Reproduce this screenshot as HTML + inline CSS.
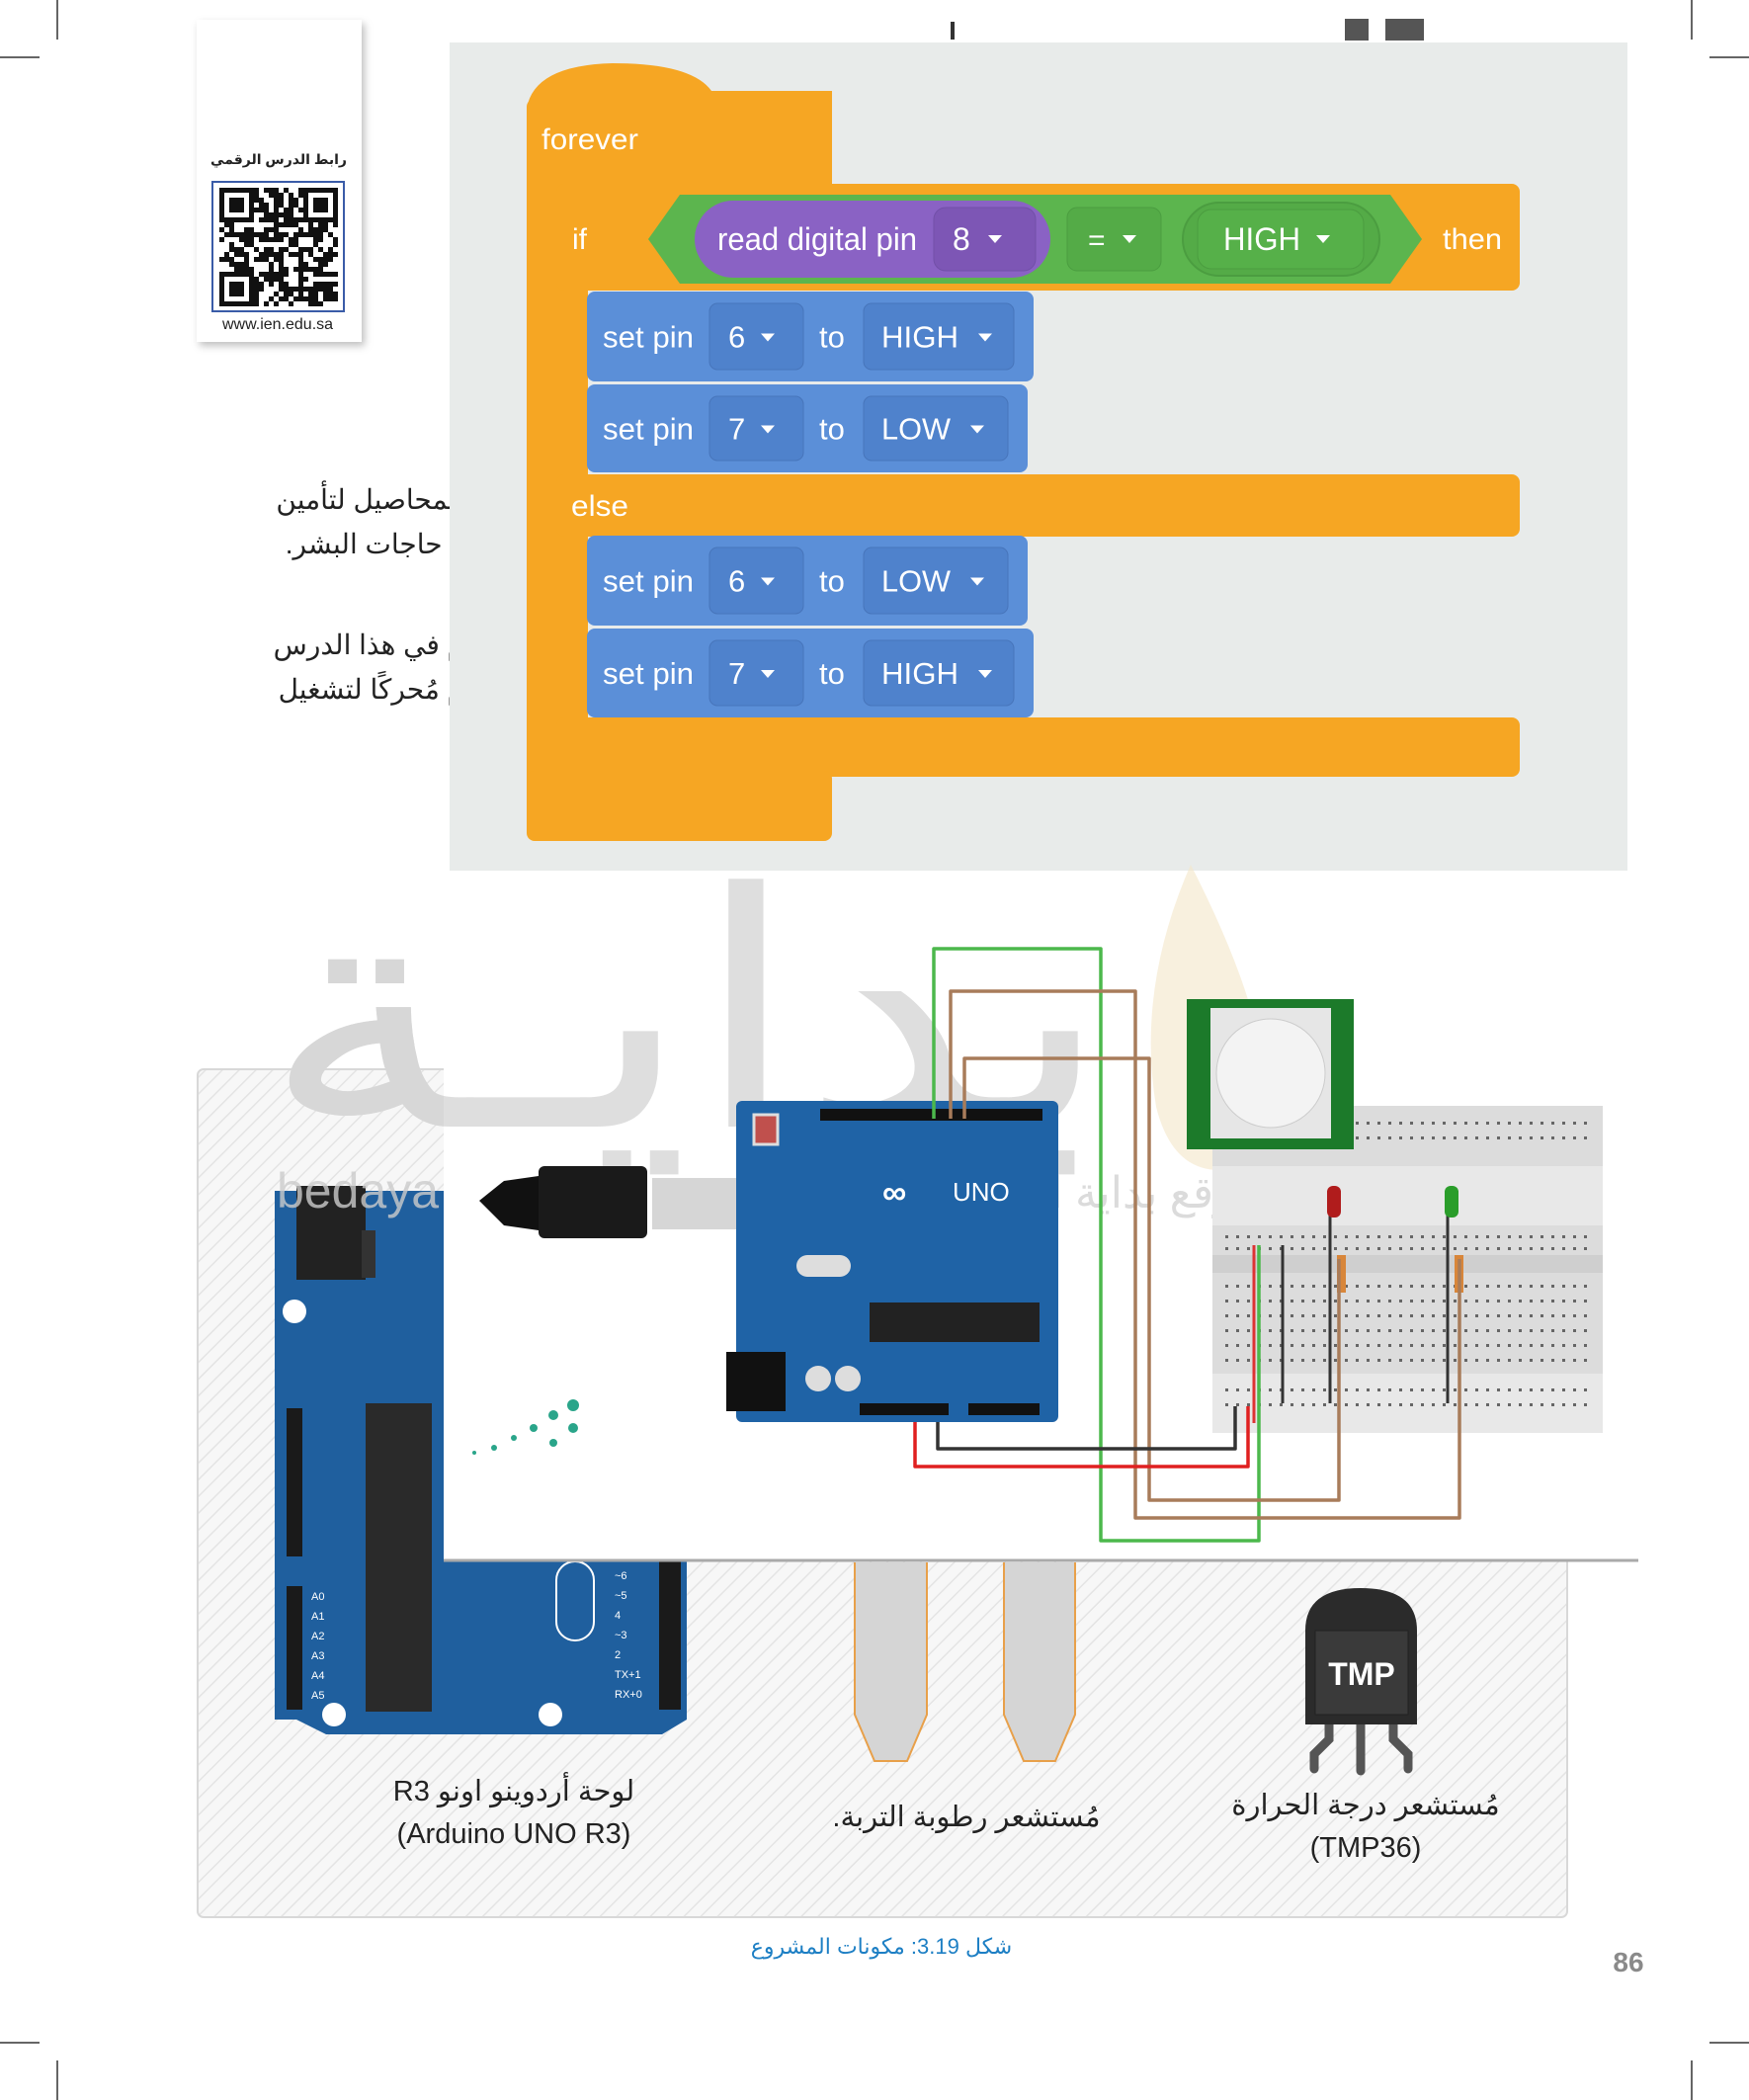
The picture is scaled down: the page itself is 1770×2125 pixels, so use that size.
<!DOCTYPE html>
<html><head><meta charset="utf-8"><style>
html,body{margin:0;padding:0;background:#fff}
svg{display:block}
text{font-family:"Liberation Sans Narrow","Liberation Sans",sans-serif}
.ar{font-family:"Liberation Sans","DejaVu Sans",sans-serif;direction:rtl;unicode-bidi:embed}
</style></head><body>
<svg id="s" width="1770" height="2125" viewBox="0 0 1770 2125" xmlns="http://www.w3.org/2000/svg">
<defs>
<pattern id="hatch" width="12" height="12" patternUnits="userSpaceOnUse" patternTransform="rotate(45)">
<rect width="12" height="12" fill="#f7f7f7"/><line x1="0" y1="0" x2="0" y2="12" stroke="#e4e4e4" stroke-width="3"/>
</pattern>
</defs>
<g stroke="#333" stroke-width="1.5">
<line x1="58" y1="0" x2="58" y2="40"/><line x1="0" y1="58" x2="40" y2="58"/>
<line x1="1712" y1="0" x2="1712" y2="40"/><line x1="1730" y1="58" x2="1770" y2="58"/>
<line x1="58" y1="2085" x2="58" y2="2125"/><line x1="0" y1="2067" x2="40" y2="2067"/>
<line x1="1712" y1="2085" x2="1712" y2="2125"/><line x1="1730" y1="2067" x2="1770" y2="2067"/>
</g>
<rect x="1361" y="19" width="24" height="22" fill="#555"/><rect x="1402" y="19" width="39" height="22" fill="#555"/>
<rect x="962" y="22" width="4" height="18" fill="#333"/>

<rect x="199" y="20" width="167" height="326" fill="#fff" style="filter:drop-shadow(3px 4px 4px rgba(0,0,0,.25))"/>
<text x="282" y="166" text-anchor="middle" class="ar" font-size="14" font-weight="bold" fill="#222">رابط الدرس الرقمي</text>
<rect x="215" y="184" width="133" height="131" fill="#fff" stroke="#3a5ca8" stroke-width="2"/>
<g id="qr"></g>
<text x="281" y="333" text-anchor="middle" font-size="16" fill="#222" style="font-family:'Liberation Sans',sans-serif">www.ien.edu.sa</text>

<g class="ar" font-size="28" fill="#222" text-anchor="start">
<text x="470" y="515">المحاصيل لتأمين</text>
<text x="470" y="560">ة حاجات البشر.</text>
<text x="470" y="662">م في هذا الدرس</text>
<text x="470" y="707">م مُحركًا لتشغيل</text>
</g>

<rect x="455" y="43" width="1192" height="838" fill="#e8ebea"/>
<g fill="#f6a623">
<path d="M533 110 Q540 66 620 64 Q700 64 720 92 L842 92 L842 190 L533 190 Z"/>
<rect x="533" y="100" width="309" height="90" rx="8"/>
<rect x="533" y="180" width="62" height="620"/>
<rect x="563" y="186" width="975" height="108" rx="8"/>
<rect x="563" y="480" width="975" height="63" rx="8"/>
<rect x="563" y="726" width="975" height="60" rx="8"/>
<rect x="533" y="780" width="309" height="71" rx="8"/>
</g>
<g fill="#fff" font-size="30">
<text x="548" y="151" textLength="98" lengthAdjust="spacingAndGlyphs">forever</text>
<text x="579" y="252">if</text>
<text x="578" y="522" textLength="58" lengthAdjust="spacingAndGlyphs">else</text>
<text x="1460" y="252" textLength="60" lengthAdjust="spacingAndGlyphs">then</text>
</g>
<polygon points="656,242 688,197 1407,197 1439,242 1407,287 688,287" fill="#5cb54e"/>
<rect x="703" y="203" width="360" height="78" rx="39" fill="#8a62c4"/>
<rect x="945" y="210" width="103" height="64" rx="12" fill="#7d56b5" stroke="#7250a8"/>
<text x="726" y="253" font-size="32" fill="#fff" textLength="202" lengthAdjust="spacingAndGlyphs">read digital pin</text>
<text x="964" y="253" font-size="32" fill="#fff">8</text>
<polygon points="1000,238 1014,238 1007,246" fill="#fff"/>
<rect x="1080" y="210" width="95" height="64" rx="10" fill="#54ab47" stroke="#4b9d40"/>
<text x="1101" y="253" font-size="30" fill="#fff">=</text>
<polygon points="1136,238 1150,238 1143,246" fill="#fff"/>
<rect x="1197" y="205" width="199" height="74" rx="37" fill="#54ab47" stroke="#4b9d40" stroke-width="2"/>
<rect x="1212" y="212" width="168" height="60" rx="14" fill="#56b049" stroke="#4b9d40"/>
<text x="1238" y="253" font-size="32" fill="#fff" textLength="78" lengthAdjust="spacingAndGlyphs">HIGH</text>
<polygon points="1332,238 1346,238 1339,246" fill="#fff"/>

<g id="blocks"></g>

<rect x="200" y="1082" width="1386" height="858" rx="6" fill="url(#hatch)" stroke="#d8d8d8" stroke-width="2"/>
<path d="M278 1205 L695 1205 L695 1740 L670 1755 L330 1755 L300 1740 L278 1740 Z" fill="#1f5f9e"/>
<rect x="300" y="1200" width="70" height="95" fill="#222"/>
<rect x="366" y="1245" width="14" height="48" fill="#333"/>
<rect x="370" y="1420" width="67" height="312" fill="#2a2a2a"/>
<rect x="290" y="1425" width="16" height="150" fill="#1a1a1a"/>
<rect x="290" y="1605" width="16" height="125" fill="#1a1a1a"/>
<rect x="667" y="1580" width="22" height="150" fill="#1a1a1a"/>
<circle cx="298" cy="1327" r="12" fill="#fff"/>
<circle cx="338" cy="1735" r="12" fill="#fff"/>
<circle cx="557" cy="1735" r="12" fill="#fff"/>
<g fill="#fff" font-size="11" style="font-family:'Liberation Sans',sans-serif">
<text x="315" y="1619">A0</text><text x="315" y="1639">A1</text><text x="315" y="1659">A2</text><text x="315" y="1679">A3</text><text x="315" y="1699">A4</text><text x="315" y="1719">A5</text>
<text x="622" y="1598">~6</text><text x="622" y="1618">~5</text><text x="622" y="1638">4</text><text x="622" y="1658">~3</text><text x="622" y="1678">2</text><text x="622" y="1698">TX+1</text><text x="622" y="1718">RX+0</text>
</g>
<rect x="563" y="1580" width="38" height="80" rx="19" fill="none" stroke="#fff" stroke-width="2"/>

<text x="695" y="1140" text-anchor="middle" class="ar" font-size="330" fill="#dcdcdc" textLength="860" lengthAdjust="spacingAndGlyphs">بدايـة</text>

<rect x="449" y="881" width="1209" height="698" fill="#fff"/>
<line x1="449" y1="1579" x2="1658" y2="1579" stroke="#aaa" stroke-width="3"/>
<path d="M1205 875 Q1150 1000 1170 1120 Q1190 1200 1260 1180 Q1320 1100 1205 875Z" fill="#f3e6c8" opacity=".6"/>
<text x="695" y="1140" text-anchor="middle" class="ar" font-size="330" fill="#d6d6d6" opacity=".8" textLength="860" lengthAdjust="spacingAndGlyphs">بدايـة</text>
<text x="280" y="1222" font-size="50" fill="#ccc" opacity=".8" style="font-family:'Liberation Sans',sans-serif">bedaya</text>
<text x="1100" y="1222" text-anchor="middle" class="ar" font-size="44" fill="#ccc" opacity=".7">موقع بداية التعليمي</text>
<g fill="#2aa58a"><circle cx="580" cy="1422" r="6"/><circle cx="560" cy="1432" r="5"/><circle cx="580" cy="1445" r="5"/><circle cx="540" cy="1445" r="4"/><circle cx="520" cy="1455" r="3"/><circle cx="560" cy="1460" r="4"/><circle cx="500" cy="1465" r="3"/><circle cx="480" cy="1470" r="2"/></g>

<path d="M485 1215 L510 1195 L545 1190 L545 1245 L510 1240 Z" fill="#111"/>
<rect x="545" y="1180" width="110" height="73" rx="6" fill="#1a1a1a"/>
<rect x="660" y="1192" width="130" height="52" fill="#d6d6d6"/>
<rect x="745" y="1114" width="326" height="325" rx="6" fill="#1f63a6"/>
<rect x="830" y="1122" width="225" height="12" fill="#111"/>
<rect x="880" y="1318" width="172" height="40" fill="#222"/>
<rect x="735" y="1368" width="60" height="60" fill="#111"/>
<rect x="870" y="1420" width="90" height="12" fill="#111"/>
<rect x="980" y="1420" width="72" height="12" fill="#111"/>
<rect x="806" y="1270" width="55" height="22" rx="11" fill="#ddd"/>
<circle cx="828" cy="1395" r="13" fill="#ddd"/><circle cx="858" cy="1395" r="13" fill="#ddd"/>
<rect x="763" y="1128" width="24" height="30" fill="#c0504d" stroke="#ddd" stroke-width="3"/>
<text x="893" y="1218" font-size="34" fill="#fff" font-weight="bold">∞</text>
<text x="964" y="1215" font-size="26" fill="#fff">UNO</text>
<rect x="1227" y="1119" width="395" height="331" fill="#dcdcdc"/>
<rect x="1227" y="1180" width="395" height="60" fill="#e8e8e8"/>
<rect x="1227" y="1270" width="395" height="18" fill="#cfcfcf"/>
<rect x="1227" y="1390" width="395" height="60" fill="#e8e8e8"/>
<g id="holes"></g>
<line x1="1269" y1="1260" x2="1269" y2="1440" stroke="#d33" stroke-width="3"/>
<line x1="1298" y1="1260" x2="1298" y2="1420" stroke="#333" stroke-width="3"/>
<line x1="1346" y1="1215" x2="1346" y2="1420" stroke="#333" stroke-width="3"/>
<line x1="1465" y1="1215" x2="1465" y2="1420" stroke="#333" stroke-width="3"/>
<rect x="1343" y="1200" width="14" height="32" rx="6" fill="#b01c1c"/>
<rect x="1462" y="1200" width="14" height="32" rx="6" fill="#2a9d2a"/>
<rect x="1353" y="1270" width="9" height="38" fill="#d8863a"/>
<rect x="1472" y="1270" width="9" height="38" fill="#d8863a"/>
<rect x="1201" y="1011" width="169" height="152" fill="#1c7a2a"/>
<rect x="1225" y="1020" width="122" height="132" fill="#e6e6e6"/>
<circle cx="1286" cy="1086" r="55" fill="#f3f3f3" stroke="#ccc"/>
<g fill="none" stroke-width="3.5" stroke-linejoin="round">
<path d="M945 1132 V960 H1114 V1559 H1274 V1260" stroke="#4cb84c"/>
<path d="M962 1132 V1003 H1149 V1536 H1477 V1274" stroke="#a87c5a"/>
<path d="M976 1132 V1071 H1163 V1518 H1355 V1274" stroke="#a87c5a"/>
<path d="M926 1439 V1484 H1263 V1423" stroke="#e02020"/>
<path d="M949 1439 V1466 H1250 V1423" stroke="#333"/>
</g>

<g fill="#d5d5d5" stroke="#e8a04a" stroke-width="2">
<path d="M865 1581 V1735 L885 1782 H918 L938 1735 V1581"/>
<path d="M1016 1581 V1735 L1036 1782 H1068 L1088 1735 V1581"/>
</g>
<g fill="none" stroke="#555" stroke-width="9" stroke-linecap="round"><path d="M1345 1745 V1760 L1330 1775 V1790"/><line x1="1377" y1="1745" x2="1377" y2="1792"/><path d="M1410 1745 V1760 L1425 1775 V1790"/></g>
<path d="M1321 1650 Q1321 1607 1377 1607 Q1434 1607 1434 1650 V1745 H1321 Z" fill="#2b2b2b"/>
<rect x="1331" y="1650" width="94" height="85" fill="#3a3a3a" stroke="#222"/>
<text x="1378" y="1705" text-anchor="middle" font-size="32" font-weight="bold" fill="#fff" style="font-family:'Liberation Sans',sans-serif">TMP</text>

<g class="ar" font-size="29" fill="#222" text-anchor="middle">
<text x="520" y="1822">لوحة أردوينو اونو R3</text>
<text x="1382" y="1836">مُستشعر درجة الحرارة</text>
<text x="978" y="1848">مُستشعر رطوبة التربة.</text>
</g>
<g font-size="29" fill="#222" text-anchor="middle" style="font-family:'Liberation Sans',sans-serif">
<text x="520" y="1865">(Arduino UNO R3)</text>
<text x="1382" y="1879">(TMP36)</text>
</g>
<text x="892" y="1977" text-anchor="middle" class="ar" font-size="22" fill="#1d7fc4">شكل 3.19: مكونات المشروع</text>
<text x="1648" y="1995" text-anchor="middle" font-size="28" font-weight="bold" fill="#8a8a8a" style="font-family:'Liberation Sans',sans-serif">86</text>
</svg>
<script>
var NS="http://www.w3.org/2000/svg";
function el(p,t,a){var e=document.createElementNS(NS,t);for(var k in a)e.setAttribute(k,a[k]);p.appendChild(e);return e;}
var q=document.getElementById('qr'),s=5,ox=222,oy=190;
var seed=7;function r(){seed=(seed*9301+49297)%233280;return seed/233280;}
for(var i=0;i<24;i++)for(var j=0;j<24;j++){
 var f=(i<7&&j<7)||(i>16&&j<7)||(i<7&&j>16);
 var on;
 if(f){var a=i>16?i-17:i,b=j>16?j-17:j;on=(a==0||a==6||b==0||b==6||(a>1&&a<5&&b>1&&b<5));}
 else on=r()<0.5;
 if(on)el(q,'rect',{x:ox+j*s,y:oy+i*s,width:s,height:s,fill:'#111'});
}
var B=document.getElementById('blocks');
var rows=[[295,386,'6','HIGH',1046],[389,478,'7','LOW',1040],[542,633,'6','LOW',1040],[636,726,'7','HIGH',1046]];
rows.forEach(function(v){
 var y=v[0],h=v[1]-v[0];
 el(B,'rect',{x:594,y:y,width:v[4]-594,height:h,rx:8,fill:'#5b8fd8'});
 el(B,'rect',{x:718,y:y+12,width:95,height:h-24,rx:8,fill:'#4f82cc',stroke:'#4775bb'});
 el(B,'rect',{x:874,y:y+12,width:v[4]-874-20,height:h-24,rx:8,fill:'#4f82cc',stroke:'#4775bb'});
 var cy=y+h/2+11;
 var t=el(B,'text',{x:610,y:cy,'font-size':31,fill:'#fff',textLength:92,lengthAdjust:'spacingAndGlyphs'});t.textContent='set pin';
 t=el(B,'text',{x:737,y:cy,'font-size':31,fill:'#fff'});t.textContent=v[2];
 el(B,'polygon',{points:(770)+','+(cy-14)+' '+(784)+','+(cy-14)+' '+777+','+(cy-6),fill:'#fff'});
 t=el(B,'text',{x:829,y:cy,'font-size':31,fill:'#fff'});t.textContent='to';
 t=el(B,'text',{x:892,y:cy,'font-size':31,fill:'#fff',textLength:v[3]=='HIGH'?78:70,lengthAdjust:'spacingAndGlyphs'});t.textContent=v[3];
 var ax=v[3]=='HIGH'?990:982;
 el(B,'polygon',{points:ax+','+(cy-14)+' '+(ax+14)+','+(cy-14)+' '+(ax+7)+','+(cy-6),fill:'#fff'});
});
var H=document.getElementById('holes');
[1135,1150,1250,1262,1300,1315,1330,1345,1360,1375,1405,1420].forEach(function(y){
 for(var x=1240;x<1612;x+=11)el(H,'rect',{x:x,y:y,width:3,height:3,fill:'#666'});
});
</script>
</body></html>
